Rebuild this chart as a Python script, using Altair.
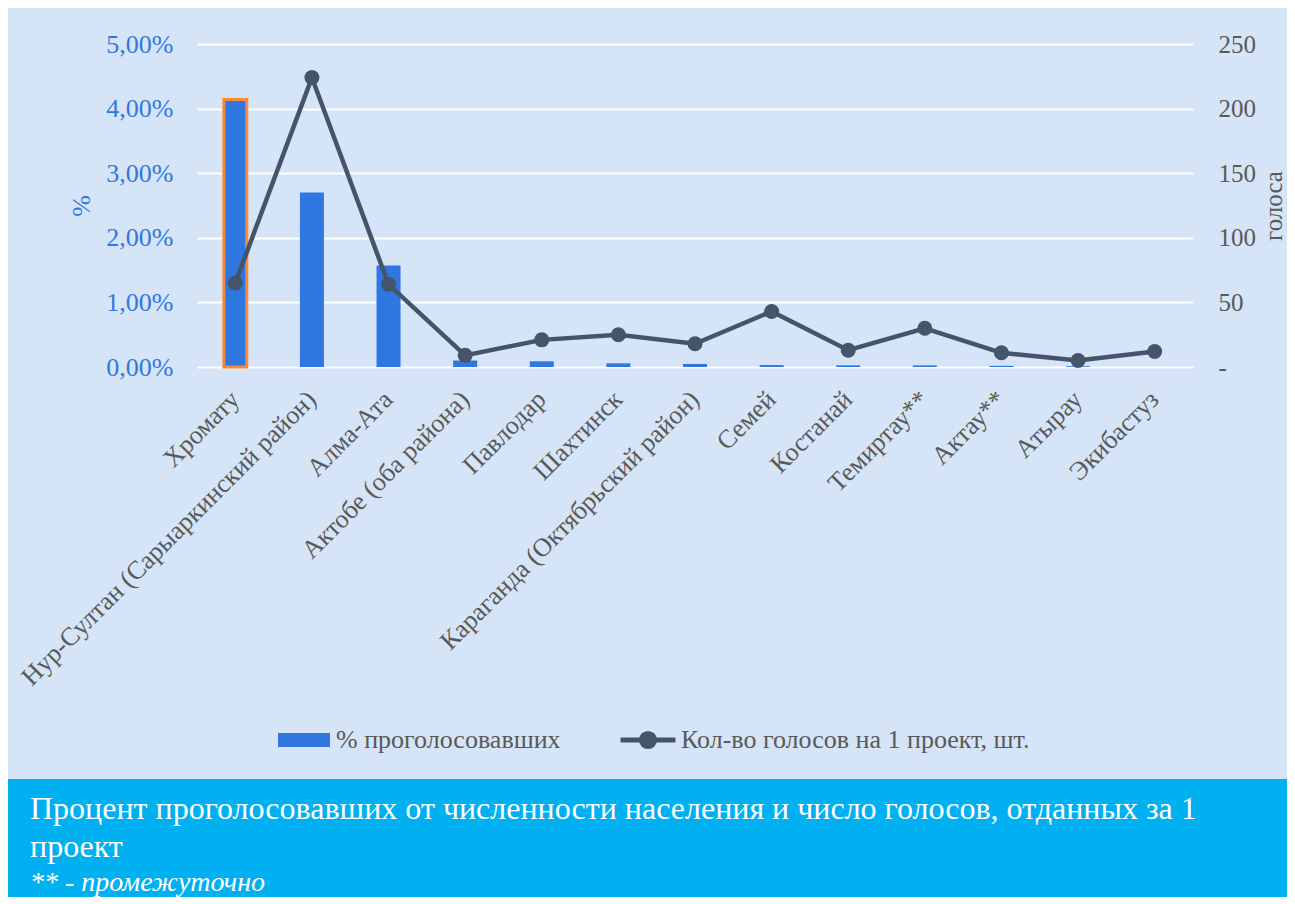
import altair as alt
import pandas as pd

# ---------------- data ----------------
cities = [
    "Хромату",
    "Нур-Султан (Сарыаркинский район)",
    "Алма-Ата",
    "Актобе (оба района)",
    "Павлодар",
    "Шахтинск",
    "Караганда (Октябрьский район)",
    "Семей",
    "Костанай",
    "Темиртау**",
    "Актау**",
    "Атырау",
    "Экибастуз",
]
pct_voted = [4.14, 2.70, 1.57, 0.10, 0.088, 0.057, 0.047, 0.03, 0.026, 0.025, 0.018, 0.012, 0.0]  # %
votes_per_project = [65, 224, 64, 9, 21, 25, 18, 43, 13, 30, 11, 5, 12]

bar_name = "% проголосовавших"
line_name = "Кол-во голосов на 1 проект, шт."
highlight_city = "Хромату"

left_ticks = [0, 0.01, 0.02, 0.03, 0.04, 0.05]
right_ticks = [0, 50, 100, 150, 200, 250]

caption_lines = [
    "Процент проголосовавших от численности населения и число голосов, отданных за 1",
    "проект",
]
caption_note = "** - промежуточно"

# ---------------- styling ----------------
FONT = "Liberation Serif"
BG = "#D6E4F7"
BAR = "#2E77E1"
LINE = "#44546A"
ORANGE = "#F68B3B"
BLUE_TXT = "#2F78E3"
GRAY_TXT = "#595959"
BANNER = "#00B0F0"

df = pd.DataFrame({
    "city": cities,
    "pct": [p / 100 for p in pct_voted],
    "votes": votes_per_project,
    "bar_series": bar_name,
    "line_series": line_name,
})

x_axis = alt.Axis(
    labelAngle=-45, labelAlign="right", labelBaseline="middle",
    labelFont=FONT, labelFontSize=26, labelColor=GRAY_TXT, labelPadding=28,
    labelLimit=700, domain=False, ticks=False, grid=False, title=None,
)
x_enc = alt.X("city:N", sort=cities,
              scale=alt.Scale(paddingInner=0, paddingOuter=0), axis=x_axis)

left_axis = alt.Axis(
    orient="left", values=left_ticks,
    labelExpr="replace(format(datum.value, '.2%'), '.', ',')",
    labelFont=FONT, labelFontSize=26, labelColor=BLUE_TXT, labelPadding=24,
    title="%", titleFont=FONT, titleFontSize=26, titleColor=BLUE_TXT,
    titleFontWeight="normal", titlePadding=11,
    domain=False, ticks=False, grid=True, gridColor="white", gridWidth=2,
)
left_scale = alt.Scale(domain=[0, 0.05], nice=False)

right_axis = alt.Axis(
    orient="right", values=right_ticks,
    labelExpr="datum.value == 0 ? '-' : datum.label",
    labelFont=FONT, labelFontSize=25, labelColor=GRAY_TXT, labelPadding=25,
    title="голоса", titleFont=FONT, titleFontSize=25, titleColor=GRAY_TXT,
    titleFontWeight="normal", titleAngle=270, titleBaseline="top", titlePadding=6,
    domain=False, ticks=False, grid=False,
)
right_scale = alt.Scale(domain=[0, 250], nice=False)

base = alt.Chart(df)

bar_path = "M-1,-0.27H1V0.27H-1Z"
line_path = "M-1,0H1M0.24,0A0.24,0.24,0,1,1,-0.24,0A0.24,0.24,0,1,1,0.24,0Z"

bars = base.mark_bar(size=24).encode(
    x=x_enc,
    y=alt.Y("pct:Q", scale=left_scale, axis=left_axis),
    fill=alt.Fill(
        "bar_series:N",
        scale=alt.Scale(domain=[bar_name], range=[BAR]),
        legend=alt.Legend(
            title=None, orient="none", legendX=270, legendY=670, padding=0,
            symbolType=bar_path, symbolSize=2704, symbolStrokeWidth=0,
            labelFont=FONT, labelFontSize=26, labelColor=GRAY_TXT,
            labelOffset=6, labelLimit=700,
        ),
    ),
)

outline = base.transform_filter(alt.datum.city == highlight_city).mark_bar(
    filled=False, stroke=ORANGE, strokeWidth=3, size=23
).encode(
    x=x_enc,
    y=alt.Y("pct:Q", scale=left_scale, axis=left_axis),
)

line = base.mark_line(strokeWidth=4.5).encode(
    x=x_enc,
    y=alt.Y("votes:Q", scale=right_scale, axis=right_axis),
    stroke=alt.Stroke(
        "line_series:N",
        scale=alt.Scale(domain=[line_name], range=[LINE]),
        legend=alt.Legend(
            title=None, orient="none", legendX=610, legendY=666, padding=0,
            symbolType=line_path, symbolSize=3025, symbolStrokeWidth=5,
            symbolFillColor=LINE,
            labelFont=FONT, labelFontSize=26, labelColor=GRAY_TXT,
            labelOffset=3, labelLimit=700,
        ),
    ),
)

points = base.mark_circle(size=225, opacity=1, color=LINE).encode(
    x=x_enc,
    y=alt.Y("votes:Q", scale=right_scale, axis=right_axis),
)

main = alt.layer(
    alt.layer(bars, outline),
    alt.layer(line, points),
).resolve_scale(y="independent").properties(width=996, height=323)

spacer = alt.Chart(pd.DataFrame({"s": [""]})).mark_text().encode(
    text=alt.value("")
).properties(width=8, height=323)

top = alt.hconcat(spacer, main, spacing=0)

cap1 = alt.Chart(pd.DataFrame({"t": [caption_lines[0]]})).mark_text(
    align="left", baseline="middle", font=FONT, fontSize=32, color="white"
).encode(x=alt.value(22), y=alt.value(30), text="t:N")
cap2 = alt.Chart(pd.DataFrame({"t": [caption_lines[1]]})).mark_text(
    align="left", baseline="middle", font=FONT, fontSize=32, color="white"
).encode(x=alt.value(22), y=alt.value(68), text="t:N")
cap3 = alt.Chart(pd.DataFrame({"t": [caption_note]})).mark_text(
    align="left", baseline="middle", font=FONT, fontSize=28, fontStyle="italic",
    color="white"
).encode(x=alt.value(22), y=alt.value(104), text="t:N")

banner = alt.layer(cap1, cap2, cap3).properties(
    width=1279, height=118, view=alt.ViewBackground(fill=BANNER, strokeWidth=0)
)

chart = alt.vconcat(top, banner, spacing=89).properties(
    background=BG,
    padding={"top": 23, "left": 0, "right": 0, "bottom": 0},
).configure_view(strokeWidth=0)

chart.save("out.html", embed_options={"renderer": "svg", "actions": False})
